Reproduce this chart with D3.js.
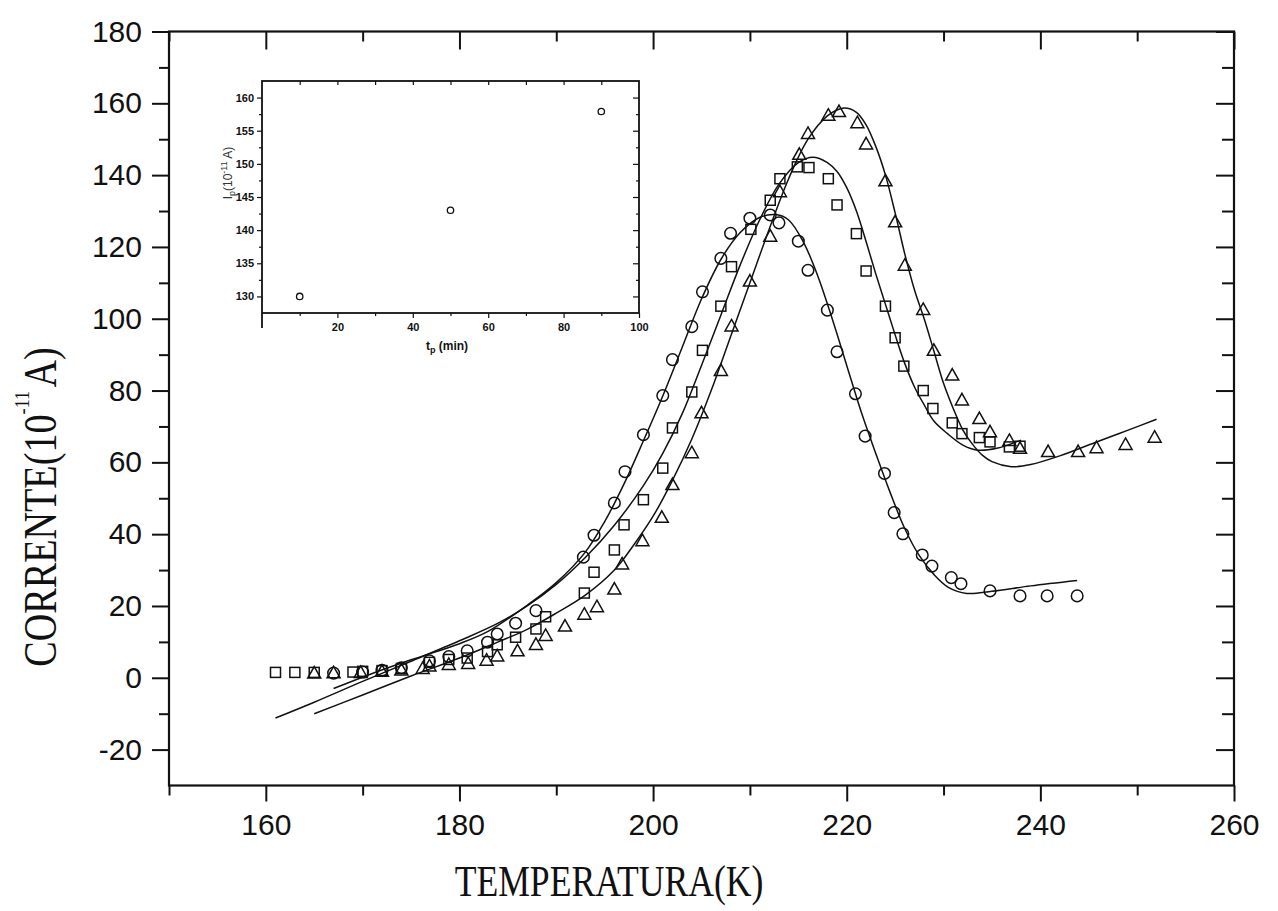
<!DOCTYPE html>
<html>
<head>
<meta charset="utf-8">
<script src="https://cdn.jsdelivr.net/npm/d3@7"></script>
<style>
  body { margin: 0; background: #fff; }
</style>
</head>
<body>
<svg id="chart" width="1278" height="911"></svg>
<script>
// circles: fastest peak
const circT = [167, 170, 172, 174, 176.9, 178.9, 180.8, 182.9, 183.9, 185.8, 187.9, 192.8, 193.9, 196, 197.1, 199, 201, 202, 204, 205.1, 207, 208, 210, 212.1, 213, 215, 216, 218, 219, 220.9, 221.9, 223.9, 224.9, 225.8, 227.8, 228.8, 230.8, 231.8, 234.8, 237.9, 240.7, 243.8];
const circI = [1.3, 1.6, 2.1, 2.8, 4.7, 5.9, 7.5, 9.9, 12.2, 15.2, 18.7, 33.6, 39.7, 48.7, 57.4, 67.7, 78.6, 88.6, 97.8, 107.5, 116.8, 123.8, 128.0, 128.9, 126.7, 121.6, 113.5, 102.4, 90.8, 79.1, 67.3, 56.9, 46.0, 40.1, 34.2, 31.1, 27.9, 26.2, 24.2, 22.8, 22.8, 22.8];

// squares
const sqT = [161, 163, 165, 169, 170, 172, 174, 176.9, 178.9, 180.8, 182.9, 183.9, 185.8, 187.9, 188.9, 192.9, 193.9, 196, 197, 199, 201, 202, 204, 205.1, 207, 208.1, 210.1, 212.1, 213.1, 214.9, 216.1, 218.1, 219, 221, 222, 224, 225, 225.9, 227.9, 228.9, 230.9, 231.9, 233.7, 234.8, 236.8, 237.9];
const sqI = [1.5, 1.5, 1.5, 1.6, 1.8, 2.0, 2.6, 4.3, 5.1, 5.5, 7.3, 9.2, 11.3, 13.6, 17.0, 23.6, 29.4, 35.6, 42.6, 49.6, 58.4, 69.6, 79.6, 91.2, 103.5, 114.5, 124.9, 133.0, 139.0, 142.3, 142.1, 139.0, 131.7, 123.7, 113.3, 103.5, 94.7, 86.8, 80.0, 75.0, 71.0, 68.0, 66.9, 65.7, 64.3, 64.5];

// triangles
const triT = [165, 167, 169.8, 172, 174, 176.2, 176.9, 178.9, 180.9, 182.8, 183.9, 186, 187.9, 188.9, 190.9, 192.9, 194.2, 196, 196.8, 198.9, 200.9, 202, 204, 205, 207, 208.1, 210, 212.1, 213.1, 215.1, 216, 218.1, 219.2, 221.1, 222, 224, 225, 226, 227.9, 229, 230.9, 231.9, 233.7, 234.8, 236.8, 237.9, 240.8, 243.9, 245.8, 248.8, 251.8];
const triI = [1.3, 1.4, 1.5, 1.8, 2.2, 2.6, 3.3, 3.7, 4.0, 4.9, 6.1, 7.5, 9.3, 11.8, 14.4, 17.7, 19.8, 24.7, 31.7, 38.2, 44.7, 53.8, 62.7, 73.8, 85.6, 98.0, 110.5, 123.0, 135.4, 145.8, 151.6, 156.7, 157.7, 154.6, 148.7, 138.4, 127.0, 114.9, 102.6, 91.2, 84.3, 77.4, 72.2, 68.5, 66.1, 63.9, 63.0, 63.0, 64.1, 65.0, 67.0];

// fitted curves
const fitCircT = [167, 171, 175, 180, 183, 187, 190, 193, 195, 197, 199, 201, 203, 205, 207, 209, 211, 212.7, 214, 215.5, 217, 218.5, 220, 221.5, 223, 224.5, 226, 227.5, 229, 230.5, 232.4, 235, 239, 243.8];
const fitCircI = [-3, 1.2, 5, 9.5, 13, 20.2, 26.5, 35, 43.5, 54, 66, 78.5, 92, 105.5, 116.5, 124, 128.2, 129, 127.5, 121.5, 112, 100, 87, 74, 62.5, 51.5, 41.5, 34, 28.8, 25.2, 23.5, 24.1, 25.6, 27.1];
const fitSqT = [161, 165, 170, 175, 180, 184, 187, 190, 193, 196, 199, 201, 203, 205, 207, 209, 211, 213, 215, 216.5, 218, 219, 220, 221, 222, 223, 224, 225, 226, 227, 228, 229, 230.4, 232, 233.5, 235.5, 238];
const fitSqI = [-11.2, -6.8, -1, 4.6, 10.3, 15.2, 20, 26, 33.5, 42.5, 53.5, 62.5, 73.5, 87, 101, 115, 127.5, 137.5, 143.5, 145, 143.5, 141, 136.5, 130, 121.5, 112.5, 104, 95.5, 87.5, 81, 76, 71.5, 68, 64.8, 63.4, 63.9, 66.2];
const fitTriT = [165, 170, 175, 180, 184, 187, 190, 193, 196, 198, 200, 202, 204, 206, 208, 210, 212, 214, 216, 218, 219.7, 221, 222, 223, 224, 225, 226, 227, 228, 229, 230, 231, 232, 233, 234, 235, 237, 239, 242, 246, 249, 252];
const fitTriI = [-10, -4.8, 0.5, 5.5, 10, 13.5, 18, 23, 30, 37, 45, 55, 66.5, 80, 95, 110, 125, 139, 150, 156.5, 158.7, 157.5, 154, 148, 140, 129.5, 118, 108, 100, 91, 82, 75, 69, 65, 62, 60.2, 58.8, 59.4, 61.8, 65.9, 68.9, 72];

// inset: peak current vs polarisation time
const tpMin = [10, 50, 90];
const ipPeak = [130, 143, 157.9];

const xTicks = [160, 180, 200, 220, 240, 260];
const yTicks = [-20, 0, 20, 40, 60, 80, 100, 120, 140, 160, 180];

const sans = '"Liberation Sans", Arial, sans-serif';
const serif = '"Liberation Serif", "Times New Roman", serif';
const ink = '#111';

const svg = d3.select('#chart');

const x = d3.scaleLinear().domain([150, 260]).range([169, 1234]);
const y = d3.scaleLinear().domain([-30, 180]).range([785.5, 31.5]);

const zip = (a, b) => a.map((t, i) => [t, b[i]]);

function styleAxis(g, fontSize) {
  g.select('.domain').remove();
  g.selectAll('.tick line').attr('stroke', ink).attr('stroke-width', 2);
  g.selectAll('.tick text')
    .attr('fill', ink)
    .style('font-family', sans)
    .style('font-size', fontSize + 'px');
}

// main axes
const minorX = d3.range(150, 261, 10).filter(v => !xTicks.includes(v));
const minorY = d3.range(-10, 171, 20);

svg.append('g').attr('transform', `translate(0,${y(-30)})`)
  .call(d3.axisBottom(x).tickValues(xTicks).tickSize(16).tickPadding(12).tickFormat(d => String(d)))
  .call(g => styleAxis(g, 30));
svg.append('g').attr('transform', `translate(0,${y(-30)})`)
  .call(d3.axisBottom(x).tickValues(minorX).tickSize(10).tickFormat(''))
  .call(g => styleAxis(g, 30));
svg.append('g').attr('transform', `translate(0,${y(180)})`)
  .call(d3.axisTop(x).tickValues(xTicks).tickSize(-18).tickFormat(''))
  .call(g => styleAxis(g, 30));
svg.append('g').attr('transform', `translate(0,${y(180)})`)
  .call(d3.axisTop(x).tickValues(minorX).tickSize(-10).tickFormat(''))
  .call(g => styleAxis(g, 30));

svg.append('g').attr('transform', `translate(${x(150)},0)`)
  .call(d3.axisLeft(y).tickValues(yTicks).tickSize(17).tickPadding(10).tickFormat(d => String(d)))
  .call(g => styleAxis(g, 30));
svg.append('g').attr('transform', `translate(${x(150)},0)`)
  .call(d3.axisLeft(y).tickValues(minorY).tickSize(10).tickFormat(''))
  .call(g => styleAxis(g, 30));
svg.append('g').attr('transform', `translate(${x(260)},0)`)
  .call(d3.axisRight(y).tickValues(yTicks).tickSize(-18).tickFormat(''))
  .call(g => styleAxis(g, 30));
svg.append('g').attr('transform', `translate(${x(260)},0)`)
  .call(d3.axisRight(y).tickValues(minorY).tickSize(-12).tickFormat(''))
  .call(g => styleAxis(g, 30));

svg.append('rect')
  .attr('x', x(150)).attr('y', y(180))
  .attr('width', x(260) - x(150)).attr('height', y(-30) - y(180))
  .attr('fill', 'none').attr('stroke', ink).attr('stroke-width', 2.2);

// fitted curves
const line = d3.line()
  .x(d => x(d[0])).y(d => y(d[1]))
  .curve(d3.curveCatmullRom.alpha(0.5));

[zip(fitCircT, fitCircI), zip(fitSqT, fitSqI), zip(fitTriT, fitTriI)].forEach(pts => {
  svg.append('path')
    .attr('d', line(pts))
    .attr('fill', 'none')
    .attr('stroke', ink)
    .attr('stroke-width', 1.5);
});

// markers
const marks = svg.append('g')
  .attr('fill', 'none').attr('stroke', ink).attr('stroke-width', 1.5);

marks.selectAll('circle.c')
  .data(zip(circT, circI))
  .join('circle')
  .attr('class', 'c')
  .attr('cx', d => x(d[0])).attr('cy', d => y(d[1]))
  .attr('r', 5.8);

marks.selectAll('rect.s')
  .data(zip(sqT, sqI))
  .join('rect')
  .attr('class', 's')
  .attr('x', d => x(d[0]) - 5).attr('y', d => y(d[1]) - 5)
  .attr('width', 10).attr('height', 10);

marks.selectAll('path.t')
  .data(zip(triT, triI))
  .join('path')
  .attr('class', 't')
  .attr('d', 'M0,-6.5L6.5,5L-6.5,5Z')
  .attr('transform', d => `translate(${x(d[0])},${y(d[1])})`);

// axis titles
const yTitle = svg.append('text')
  .attr('transform', 'translate(56,507) rotate(-90) scale(0.83,1)')
  .attr('text-anchor', 'middle')
  .attr('fill', ink)
  .style('font-family', serif)
  .style('font-size', '46px');
yTitle.append('tspan').text('CORRENTE(10');
yTitle.append('tspan').attr('dy', -27).style('font-size', '22px').text('-11');
yTitle.append('tspan').attr('dy', 27).attr('dx', 4).text('A)');

svg.append('text')
  .attr('transform', 'translate(609,896) scale(0.81,1)')
  .attr('text-anchor', 'middle')
  .attr('fill', ink)
  .style('font-family', serif)
  .style('font-size', '44px')
  .text('TEMPERATURA(K)');

// inset
const ix = d3.scaleLinear().domain([0, 100]).range([262, 639]);
const iy = d3.scaleLinear().domain([127.5, 162.5]).range([313, 81]);

const inset = svg.append('g');
inset.append('rect')
  .attr('x', ix(0)).attr('y', iy(162.5))
  .attr('width', ix(100) - ix(0)).attr('height', iy(127.5) - iy(162.5))
  .attr('fill', '#fff');

function styleInset(g) {
  g.select('.domain').remove();
  g.selectAll('.tick line').attr('stroke', ink).attr('stroke-width', 1.2);
  g.selectAll('.tick text')
    .attr('fill', ink)
    .style('font-family', sans)
    .style('font-weight', 'bold')
    .style('font-size', '11px');
}

inset.append('g').attr('transform', `translate(0,${iy(127.5)})`)
  .call(d3.axisBottom(ix).tickValues([20, 40, 60, 80, 100]).tickSize(5).tickPadding(5))
  .call(styleInset);
inset.append('g').attr('transform', `translate(0,${iy(127.5)})`)
  .call(d3.axisBottom(ix).tickValues([10, 30, 50, 70, 90]).tickSize(3).tickFormat(''))
  .call(styleInset);
inset.append('g').attr('transform', `translate(0,${iy(162.5)})`)
  .call(d3.axisTop(ix).tickValues(d3.range(10, 100, 10)).tickSize(-4).tickFormat(''))
  .call(styleInset);
inset.append('g').attr('transform', `translate(${ix(0)},0)`)
  .call(d3.axisLeft(iy).tickValues(d3.range(130, 161, 5)).tickSize(5).tickPadding(3))
  .call(styleInset);
inset.append('g').attr('transform', `translate(${ix(0)},0)`)
  .call(d3.axisLeft(iy).tickValues(d3.range(132.5, 161, 5)).tickSize(3).tickFormat(''))
  .call(styleInset);
inset.append('g').attr('transform', `translate(${ix(100)},0)`)
  .call(d3.axisRight(iy).tickValues(d3.range(130, 161, 5)).tickSize(-6).tickFormat(''))
  .call(styleInset);
inset.append('g').attr('transform', `translate(${ix(100)},0)`)
  .call(d3.axisRight(iy).tickValues(d3.range(132.5, 161, 5)).tickSize(-3).tickFormat(''))
  .call(styleInset);

inset.append('rect')
  .attr('x', ix(0)).attr('y', iy(162.5))
  .attr('width', ix(100) - ix(0)).attr('height', iy(127.5) - iy(162.5))
  .attr('fill', 'none').attr('stroke', ink).attr('stroke-width', 1.8);
// left axis line runs a little below the frame, as in the figure
inset.append('line')
  .attr('x1', ix(0)).attr('x2', ix(0))
  .attr('y1', iy(127.5)).attr('y2', iy(127.5) + 15)
  .attr('stroke', ink).attr('stroke-width', 1.8);

inset.selectAll('circle')
  .data(zip(tpMin, ipPeak))
  .join('circle')
  .attr('cx', d => ix(d[0])).attr('cy', d => iy(d[1]))
  .attr('r', 3.2)
  .attr('fill', 'none').attr('stroke', ink).attr('stroke-width', 1.3);

const ixTitle = inset.append('text')
  .attr('x', 447).attr('y', 350)
  .attr('text-anchor', 'middle')
  .attr('fill', ink)
  .style('font-family', sans).style('font-weight', 'bold').style('font-size', '12px');
ixTitle.append('tspan').text('t');
ixTitle.append('tspan').attr('dy', 3).style('font-size', '9px').text('p');
ixTitle.append('tspan').attr('dy', -3).text(' (min)');

const iyTitle = inset.append('text')
  .attr('transform', 'translate(232,173) rotate(-90)')
  .attr('text-anchor', 'middle')
  .attr('fill', '#333')
  .style('font-family', sans).style('font-size', '12px');
iyTitle.append('tspan').text('I');
iyTitle.append('tspan').attr('dy', 3).style('font-size', '9px').text('p');
iyTitle.append('tspan').attr('dy', -3).text('(10');
iyTitle.append('tspan').attr('dy', -5).style('font-size', '9px').text('-11');
iyTitle.append('tspan').attr('dy', 5).text(' A)');
</script>
</body>
</html>
